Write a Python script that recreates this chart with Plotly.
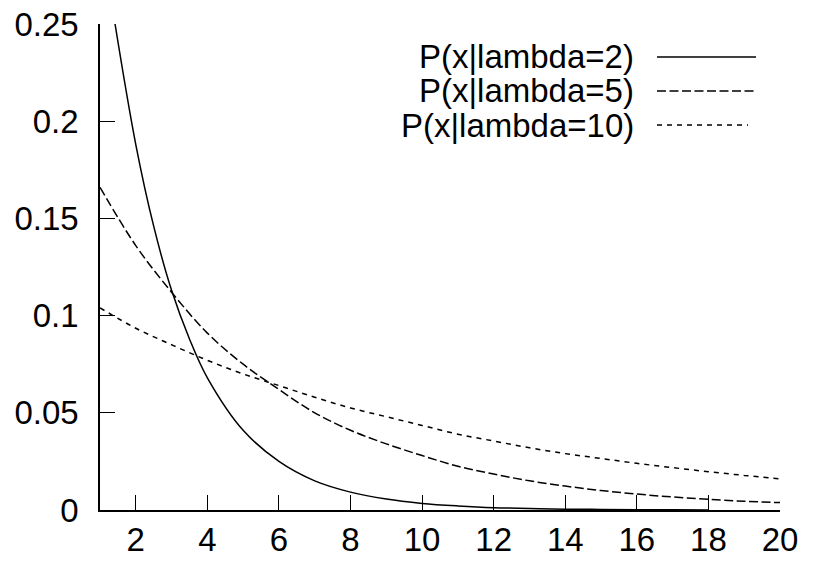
import plotly.graph_objects as go

# Data
x_l2 = [1.42, 2, 2.5, 3, 3.5, 4, 5, 6, 7, 8, 9, 10, 11, 12, 13, 14, 15, 16, 17, 18]
y_l2 = [0.25, 0.188, 0.146, 0.113, 0.088, 0.068, 0.041, 0.025, 0.015, 0.0092, 0.0056, 0.0034,
        0.0021, 0.0012, 0.0008, 0.00045, 0.0003, 0.00017, 0.0001, 0.00006]

x_l5 = list(range(1, 21))
y_l5 = [0.166, 0.136, 0.112, 0.091, 0.075, 0.062, 0.050, 0.041, 0.034, 0.028,
        0.0225, 0.0185, 0.015, 0.0123, 0.010, 0.0082, 0.0067, 0.0055, 0.0045, 0.0038]

x_l10 = list(range(1, 21))
y_l10 = [0.104, 0.0935, 0.085, 0.077, 0.070, 0.064, 0.058, 0.0525, 0.048, 0.0435,
         0.039, 0.0355, 0.032, 0.029, 0.0265, 0.024, 0.0218, 0.0197, 0.0178, 0.016]

series_names = ["P(x|lambda=2)", "P(x|lambda=5)", "P(x|lambda=10)"]
x_ticks = [2, 4, 6, 8, 10, 12, 14, 16, 18, 20]
y_ticks = [0, 0.05, 0.1, 0.15, 0.2, 0.25]
y_tick_labels = ["0", "0.05", "0.1", "0.15", "0.2", "0.25"]

dashes = ["solid", "9px,3.5px", "5px,5px"]
FONT = "Liberation Sans, Arial, sans-serif"
FS = 33

fig = go.Figure()
for xs, ys, name, d in zip([x_l2, x_l5, x_l10], [y_l2, y_l5, y_l10], series_names, dashes):
    fig.add_trace(go.Scatter(x=xs, y=ys, mode="lines", name=name,
                             line=dict(color="black", width=1.5, dash=d, shape="spline"),
                             showlegend=False))

# Custom legend (text right-aligned, sample line to the right), like gnuplot
W, H = 818, 561
ml, mr, mt, mb = 100, 38, 24, 51
pw, ph = W - ml - mr, H - mt - mb

def px(xp):
    return (xp - ml) / pw

def py(yp):
    return 1 - (yp - mt) / ph

rows = [57, 91, 125]
ends = [756, 757, 748]
for i, (name, d) in enumerate(zip(series_names, dashes)):
    fig.add_annotation(x=px(636), y=py(rows[i]), xref="paper", yref="paper",
                       text=name, showarrow=False, xanchor="right", yanchor="middle",
                       font=dict(family=FONT, size=FS, color="black"))
    fig.add_shape(type="line", xref="paper", yref="paper",
                  x0=px(657), x1=px(ends[i]), y0=py(rows[i]), y1=py(rows[i]),
                  line=dict(color="black", width=1.5, dash=d))

axis_common = dict(showline=True, linecolor="black", linewidth=1.5, ticks="inside",
                   ticklen=15, tickwidth=1.3, tickcolor="black", showgrid=False,
                   zeroline=False, mirror=False, automargin=False,
                   tickfont=dict(family=FONT, size=FS, color="black"))

fig.update_xaxes(range=[1, 20], tickvals=x_ticks, ticklabelstandoff=0, **axis_common)
fig.update_yaxes(range=[0, 0.25], tickvals=y_ticks, ticktext=y_tick_labels,
                 ticklabelstandoff=13, **axis_common)

fig.update_layout(width=W, height=H, margin=dict(l=ml, r=mr, t=mt, b=mb),
                  paper_bgcolor="white", plot_bgcolor="white",
                  font=dict(family=FONT, color="black"))

fig.write_html("out.html")
